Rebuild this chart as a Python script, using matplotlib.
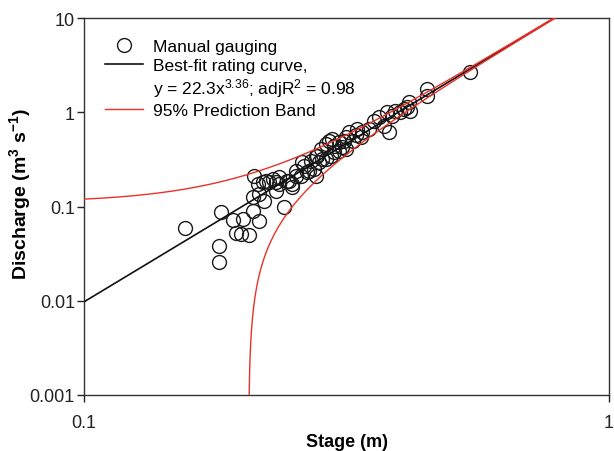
import numpy as np
import matplotlib
matplotlib.use("Agg")
import matplotlib.pyplot as plt
from matplotlib.lines import Line2D

plt.rcParams['font.family'] = ['Liberation Sans', 'DejaVu Sans']
plt.rcParams['mathtext.fontset'] = 'custom'
plt.rcParams['mathtext.rm'] = 'Liberation Sans'
plt.rcParams['mathtext.it'] = 'Liberation Sans:italic'
plt.rcParams['mathtext.bf'] = 'Liberation Sans:bold'

# manual gauging: stage (m) and discharge (m3/s)
stage = [0.1555, 0.1806, 0.1806, 0.1825, 0.2104, 0.1920, 0.2006, 0.1949, 0.1991,
         0.2065, 0.2158, 0.2102, 0.2102, 0.2206, 0.2406, 0.2189, 0.2254, 0.2321,
         0.2354, 0.2321, 0.2459, 0.2495, 0.2532, 0.2606, 0.2684, 0.2764, 0.2804,
         0.2764, 0.2887, 0.2150, 0.2142, 0.2222, 0.2287, 0.2354, 0.2441, 0.2495,
         0.2588, 0.2626, 0.2704, 0.2783, 0.2825, 0.2887, 0.2930, 0.2994, 0.3060,
         0.3060, 0.3128, 0.3151, 0.2951, 0.2845, 0.2743, 0.2664, 0.2532, 0.2972,
         0.3151, 0.3196, 0.3315, 0.3388, 0.3364, 0.3488, 0.3565, 0.3644, 0.3725,
         0.3778, 0.3862, 0.3920, 0.4006, 0.4064, 0.4124, 0.3806, 0.4185, 0.4499,
         0.4499, 0.5441, 0.4155, 0.3000, 0.3100, 0.3250, 0.3300]
discharge = [0.0591, 0.0378, 0.0256, 0.0868, 0.2091, 0.0719, 0.0737, 0.0523, 0.0511,
             0.0498, 0.0707, 0.0902, 0.1252, 0.1152, 0.0995, 0.1806, 0.1806, 0.1806,
             0.2041, 0.1471, 0.1878, 0.1599, 0.2122, 0.2944, 0.2398, 0.2122, 0.2944,
             0.3459, 0.3192, 0.1350, 0.1733, 0.1878, 0.1957, 0.1733, 0.1878, 0.1733,
             0.2122, 0.2710, 0.3061, 0.3459, 0.4075, 0.4603, 0.4990, 0.4416, 0.4800,
             0.3908, 0.4990, 0.4075, 0.3459, 0.3192, 0.2500, 0.2306, 0.2398, 0.5203,
             0.5424, 0.6128, 0.6644, 0.6128, 0.5424, 0.6644, 0.8135, 0.8839, 0.7200,
             0.9988, 0.9192, 1.038, 0.9988, 1.083, 1.128, 0.6128, 1.038, 1.765,
             1.498, 2.693, 1.275, 0.3800, 0.4300, 0.5000, 0.5700]

# rating curve y = a * x^b and half width of the 95% prediction band
fit_a = 22.3
fit_b = 3.36
band_half = 0.11

xs = np.geomspace(0.1, 1.0, 3000)
fit = fit_a * xs ** fit_b
upper = fit + band_half
lower = fit - band_half
lower = np.where(lower > 0, lower, np.nan)

red = '#e8322a'

fig = plt.figure(figsize=(6.14, 4.52), dpi=100)
ax = fig.add_axes([84 / 614, 56 / 452, 525 / 614, 377 / 452])

ax.plot(stage, discharge, 'o', mfc='none', mec='#1a1a1a', ms=10, mew=1.0, zorder=3)
ax.plot(xs, fit, color='#111111', lw=1.2, zorder=4)
ax.plot(xs, upper, color=red, lw=1.0, zorder=4)
ax.plot(xs, lower, color=red, lw=1.0, zorder=4)

ax.set_xscale('log')
ax.set_yscale('log')
ax.set_xlim(0.1, 1)
ax.set_ylim(0.001, 10)
ax.set_xticks([0.1, 1])
ax.set_xticklabels(['0.1', '1'])
ax.set_yticks([0.001, 0.01, 0.1, 1, 10])
ax.set_yticklabels(['0.001', '0.01', '0.1', '1', '10'])
ax.minorticks_off()
ax.tick_params(direction='out', length=5, width=1, labelsize=13, colors='#222222')
ax.tick_params(axis='x', pad=9)
ax.tick_params(axis='y', pad=1.5)
for s in ax.spines.values():
    s.set_linewidth(1.0)
    s.set_color('#333333')

ax.set_xlabel('Stage (m)', fontsize=13, fontweight='bold', labelpad=1)
ax.set_ylabel('Discharge (m$^{\\mathbf{3}}$ s$^{\\mathbf{-1}}$)', fontsize=14,
              fontweight='bold')
ax.yaxis.set_label_coords(-0.097, 0.535)

# legend rows: the fit label spans two rows, handle on the first
handles = [
    Line2D([], [], ls='none', marker='o', mfc='none', mec='#1a1a1a', ms=10, mew=1.0),
    Line2D([], [], color='#111111', lw=1.2),
    Line2D([], [], ls='none'),
    Line2D([], [], color=red, lw=1.0),
]
labels = ['Manual gauging', 'Best-fit rating curve,',
          'y = 22.3x$^{3.36}$; adjR$^2$ = 0.98', '95% Prediction Band']
ax.legend(handles, labels, loc='upper left', frameon=False, fontsize=12.5,
          handlelength=2.2, handletextpad=0.55, labelspacing=0.2,
          borderaxespad=0.4, borderpad=0.8)

fig.savefig('out.png', dpi=100)
